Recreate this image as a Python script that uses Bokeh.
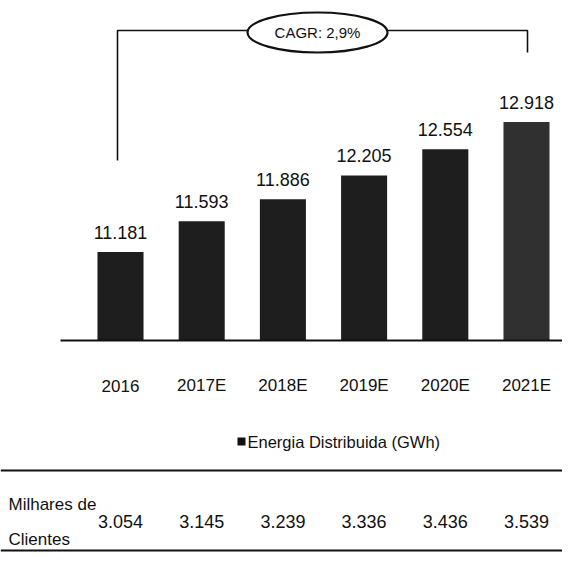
from bokeh.plotting import figure
from bokeh.models import ColumnDataSource
from bokeh.core.properties import value
from bokeh.embed import file_html
from bokeh.resources import INLINE

# ---- data ----
years = ["2016", "2017E", "2018E", "2019E", "2020E", "2021E"]
energia = [11.181, 11.593, 11.886, 12.205, 12.554, 12.918]
energia_labels = ["11.181", "11.593", "11.886", "12.205", "12.554", "12.918"]
clientes = ["3.054", "3.145", "3.239", "3.336", "3.436", "3.539"]
cagr_label = "CAGR: 2,9%"
series_name = "Energia Distribuida (GWh)"
row_label = ["Milhares de", "Clientes"]

# ---- layout helpers ----
W, H = 562, 553
BASE = 10.0
PXU = 74.84          # pixels per unit on the value axis
BASE_PX = 340        # pixel row of the baseline
Y1 = BASE + BASE_PX / PXU
Y0 = BASE - (H - BASE_PX) / PXU
XSTEP, X0PX = 81.2, 120
X_START, X_END = -X0PX / XSTEP, (W - X0PX) / XSTEP


def ypx(py):
    return Y1 - py / PXU


def xpx(px):
    return (px - X0PX) / XSTEP


FONT = value("Liberation Sans")
INK = "#111111"

idx = list(range(len(years)))
colors = ["#1e1e1e"] * (len(years) - 1) + ["#303030"]

src = ColumnDataSource(dict(x=idx, top=energia, lab=energia_labels, year=years,
                            cli=clientes, color=colors))

p = figure(width=W, height=H, x_range=(X_START, X_END), y_range=(Y0, Y1),
           x_axis_type=None, y_axis_type=None, output_backend="svg",
           toolbar_location=None, min_border=0)
p.outline_line_color = None
p.grid.visible = False
p.background_fill_color = "white"

# bars
p.vbar(x="x", top="top", bottom=BASE, width=0.567, fill_color="color",
       line_color=None, source=src)

# baseline
p.segment(x0=[xpx(60)], y0=[BASE], x1=[X_END], y1=[BASE], line_color=INK,
          line_width=2)

# value labels
p.text(x="x", y="top", text="lab", source=src, text_align="center",
       text_baseline="alphabetic", y_offset=-20, text_font=FONT,
       text_font_size="18px", text_color=INK)

# year labels
p.text(x="x", y=BASE, text="year", source=src, text_align="center",
       text_baseline="middle", y_offset=45, text_font=FONT,
       text_font_size="17px", text_color=INK)

# CAGR bracket
yb = ypx(30)
p.line(x=[xpx(117), xpx(117), xpx(527), xpx(527)],
       y=[ypx(160), yb, yb, ypx(52)], line_color=INK, line_width=1.6)
p.ellipse(x=[xpx(317)], y=[ypx(32)], width=[140], height=[40],
          width_units="screen", height_units="screen",
          fill_color="white", line_color=INK, line_width=2.2)
p.text(x=[xpx(317)], y=[ypx(32)], text=[cagr_label], text_align="center",
       text_baseline="middle", text_font=FONT, text_font_size="15px",
       text_color=INK)

# legend
p.scatter(x=[xpx(241)], y=[ypx(441)], marker="square", size=8,
          fill_color=INK, line_color=None)
p.text(x=[xpx(247)], y=[ypx(441)], text=[series_name], text_align="left",
       text_baseline="middle", text_font=FONT, text_font_size="16.5px",
       text_color=INK)

# table
p.segment(x0=[X_START, X_START], y0=[ypx(470), ypx(550)],
          x1=[X_END, X_END], y1=[ypx(470), ypx(550)],
          line_color=INK, line_width=2)
p.text(x=[xpx(8), xpx(8)], y=[ypx(504), ypx(539)], text=row_label,
       text_align="left", text_baseline="middle", text_font=FONT,
       text_font_size="17px", text_color=INK)
p.text(x="x", y=ypx(521), text="cli", source=src, text_align="center",
       text_baseline="middle", text_font=FONT, text_font_size="18px",
       text_color=INK)

open("out.html", "w").write(file_html(p, INLINE))
